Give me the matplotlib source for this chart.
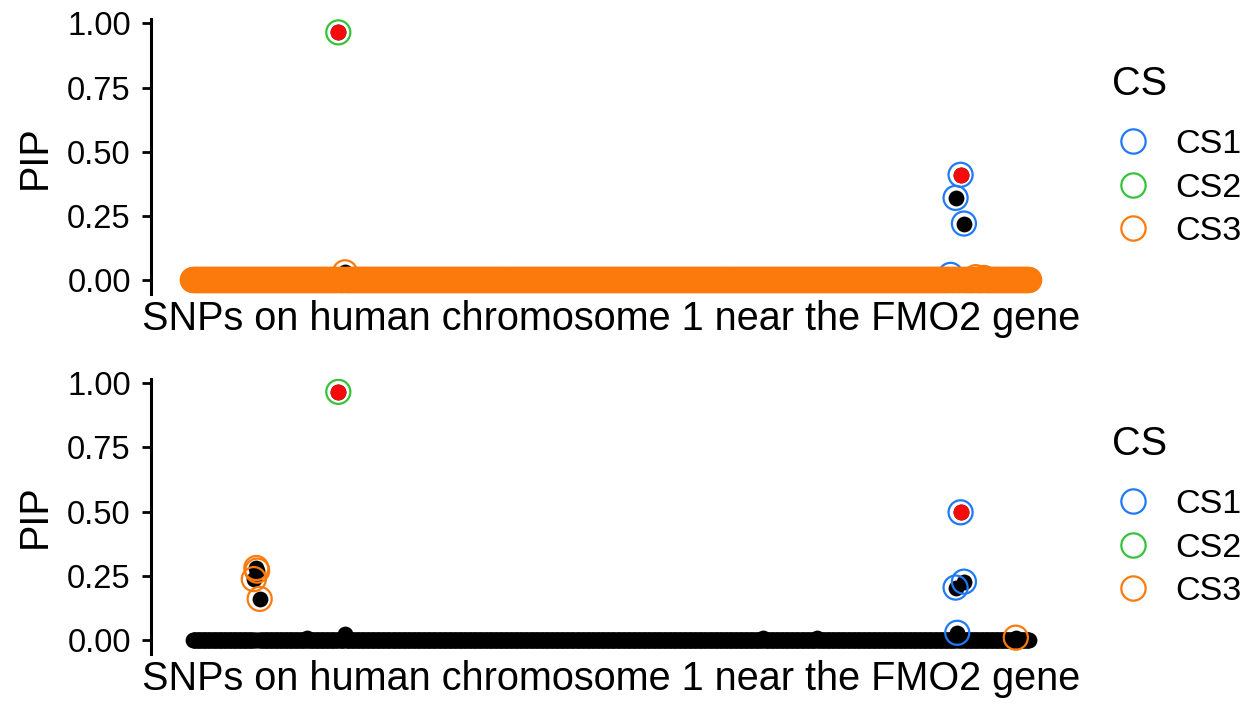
import numpy as np
import matplotlib
matplotlib.use("Agg")
import matplotlib.pyplot as plt
from matplotlib.lines import Line2D

plt.rcParams['font.family'] = ['Liberation Sans', 'DejaVu Sans']

# 1001 SNPs along the region, indexed by position
n_snps = 1001
snp = np.arange(1, n_snps + 1)

# true causal SNPs (red)
causal = [175, 919]

# top panel: SNPs with visible PIP (everything else sits at 0)
top_idx = [175, 183, 907, 913, 919, 923, 937, 947]
top_pip = [0.965, 0.03, 0.02, 0.32, 0.41, 0.22, 0.011, 0.008]
top_cs1 = [907, 913, 919, 923]
top_cs2 = [175]
# CS3 in the top fit holds every remaining SNP

# bottom panel
bot_idx = [74, 77, 78, 81, 138, 175, 183, 683, 747, 913, 915, 919, 923, 985]
bot_pip = [0.237, 0.28, 0.27, 0.16, 0.008, 0.966, 0.025, 0.008, 0.008,
           0.204, 0.028, 0.497, 0.227, 0.009]
bot_cs1 = [913, 915, 919, 923]
bot_cs2 = [175]
bot_cs3 = [74, 77, 78, 81, 985]

cs_names = ['CS1', 'CS2', 'CS3']
cs_colors = ['#2079f7', '#33c43a', '#fc7a0c']

xlabel = 'SNPs on human chromosome 1 near the FMO2 gene'


def pip_vector(idx, vals):
    pip = np.zeros(n_snps)
    for i, v in zip(idx, vals):
        pip[i - 1] = v
    return pip


def draw_panel(ax, pip, cs_sets):
    ax.scatter(snp, pip, s=130, c='black', linewidths=0, zorder=2)
    ci = np.array(causal) - 1
    ax.scatter(snp[ci], pip[ci], s=130, c='#f50b0b', linewidths=0, zorder=3)
    for members, col in zip(cs_sets, cs_colors):
        mi = np.array(members) - 1
        ax.scatter(snp[mi], pip[mi], s=300, facecolors='none',
                   edgecolors=col, linewidths=1.6, zorder=4)
    ax.set_xlim(-49, 1051)
    ax.set_ylim(-0.0545, 1.016)
    ax.set_yticks([0, 0.25, 0.5, 0.75, 1.0])
    ax.set_yticklabels(['0.00', '0.25', '0.50', '0.75', '1.00'])
    ax.set_xticks([])
    for side in ['top', 'right', 'bottom']:
        ax.spines[side].set_visible(False)
    ax.spines['left'].set_linewidth(2.2)
    ax.tick_params(axis='y', length=6.5, width=2, pad=8, labelsize=23.5)
    ax.set_ylabel('PIP', fontsize=28.5, labelpad=10)
    ax.set_xlabel(xlabel, fontsize=28.5, labelpad=4)

    handles = [Line2D([], [], ls='none', marker='o', markersize=17.5,
                      markerfacecolor='none', markeredgecolor=c,
                      markeredgewidth=1.6) for c in cs_colors]
    return handles


fig = plt.figure(figsize=(12.6, 7.2), dpi=100)
ax1 = fig.add_axes([0.1198, 0.5917, 0.7302, 0.3815])
ax2 = fig.add_axes([0.1198, 0.0917, 0.7302, 0.3819])

top = pip_vector(top_idx, top_pip)
bot = pip_vector(bot_idx, bot_pip)

top_cs3 = [i for i in snp if i not in top_cs1 and i not in top_cs2]

h1 = draw_panel(ax1, top, [top_cs1, top_cs2, top_cs3])
h2 = draw_panel(ax2, bot, [bot_cs1, bot_cs2, bot_cs3])

for ax, h, dy in [(ax1, h1, 0), (ax2, h2, 360)]:
    fig.text(1112 / 1260, 1 - (95 + dy) / 720, 'CS', fontsize=28.5,
             ha='left', va='baseline')
    ax.legend(h, cs_names, loc='upper left',
              bbox_to_anchor=(1112 / 1260, 1 - (129 + dy) / 720),
              bbox_transform=fig.transFigure, frameon=False,
              borderpad=0, borderaxespad=0, fontsize=24.5,
              handlelength=1.23, handletextpad=0.62, labelspacing=0.37)

fig.savefig('out.png', dpi=100)
